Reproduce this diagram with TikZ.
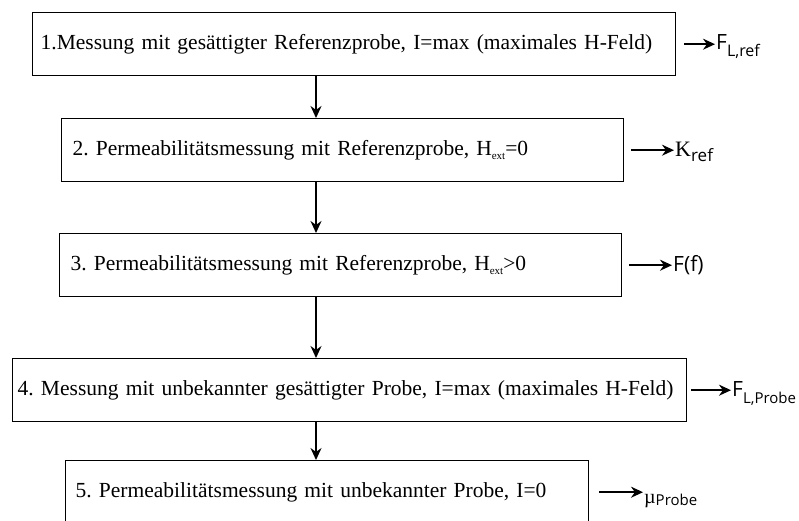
\documentclass[tikz,border=0pt]{standalone}
\usepackage{fontspec}
\setmainfont{Liberation Serif}
\setsansfont{Open Sans}
\usetikzlibrary{arrows.meta}
\frenchspacing
\newcommand\lowsub[2][4pt]{\raisebox{-#1}{#2}}
\begin{document}
\begin{tikzpicture}[
                      x=1pt, y=-1pt,
                      stepbox/.style = {rectangle, draw, line width=1.4pt, anchor=north west, minimum height=63pt, align=left, font=\fontsize{21.5}{25}\selectfont},
                      result/.style = {anchor=base west, inner sep=1pt, font=\sffamily\fontsize{21}{24}\selectfont},
                      flow/.style = {line width=1.5pt, -{Stealth[length=12pt,width=11pt]}}
                  ]
                  \useasboundingbox (0,0) rectangle (799,520);
                  \coordinate (axis) at (316,0);
                  % Messschritte
                  \node[stepbox, text width=627pt, inner xsep=8pt] (b1) at (32,12) {1.Messung mit gesättigter Referenzprobe, I=max (maximales H-Feld)};
                  \node[stepbox, text width=540pt, inner xsep=11pt] (b2) at (61,118) {2. Permeabilitätsmessung mit Referenzprobe, H\lowsub{\fontsize{11}{11}\selectfont ext}=0};
                  \node[stepbox, text width=540pt, inner xsep=11pt] (b3) at (59,233) {3. Permeabilitätsmessung mit Referenzprobe, H\lowsub{\fontsize{11}{11}\selectfont ext}>0};
                  \node[stepbox, text width=664pt, inner xsep=5pt] (b4) at (12,358) {4. Messung mit unbekannter gesättigter Probe, I=max (maximales H-Feld)};
                  \node[stepbox, text width=503pt, inner xsep=10pt] (b5) at (65,460) {5. Permeabilitätsmessung mit unbekannter Probe, I=0};
                  % Ergebnisse
                  \node[result] (r1) at (715,49) {F\lowsub[7pt]{\fontsize{16}{16}\selectfont L,ref}};
                  \node[result] (r2) at (674,156) {{\rmfamily\fontsize{22}{24}\selectfont K}\lowsub[5pt]{\fontsize{17}{17}\selectfont ref}};
                  \node[result] (r3) at (672,271) {F(f)};
                  \node[result] (r4) at (731,396) {F\lowsub[7pt]{\fontsize{15}{15}\selectfont L,Probe}};
                  \node[result] (r5) at (643,503) {{\rmfamily\fontsize{20}{22}\selectfont µ}\lowsub[2pt]{\fontsize{15}{15}\selectfont Probe}};
                  % Pfeile
                  \draw[flow] (axis |- b1.south) -- (axis |- b2.north);
                  \draw[flow] (axis |- b2.south) -- (axis |- b3.north);
                  \draw[flow] (axis |- b3.south) -- (axis |- b4.north);
                  \draw[flow] (axis |- b4.south) -- (axis |- b5.north);
                  \draw[flow] ([xshift=8pt]b1.east) -- (b1.east -| r1.west);
                  \draw[flow] ([xshift=7pt]b2.east) -- (b2.east -| r2.west);
                  \draw[flow] ([xshift=7pt]b3.east) -- (b3.east -| r3.west);
                  \draw[flow] ([xshift=4pt]b4.east) -- (b4.east -| r4.west);
                  \draw[flow] ([xshift=10pt]b5.east) -- (b5.east -| r5.west);
              \end{tikzpicture}
\end{document}
